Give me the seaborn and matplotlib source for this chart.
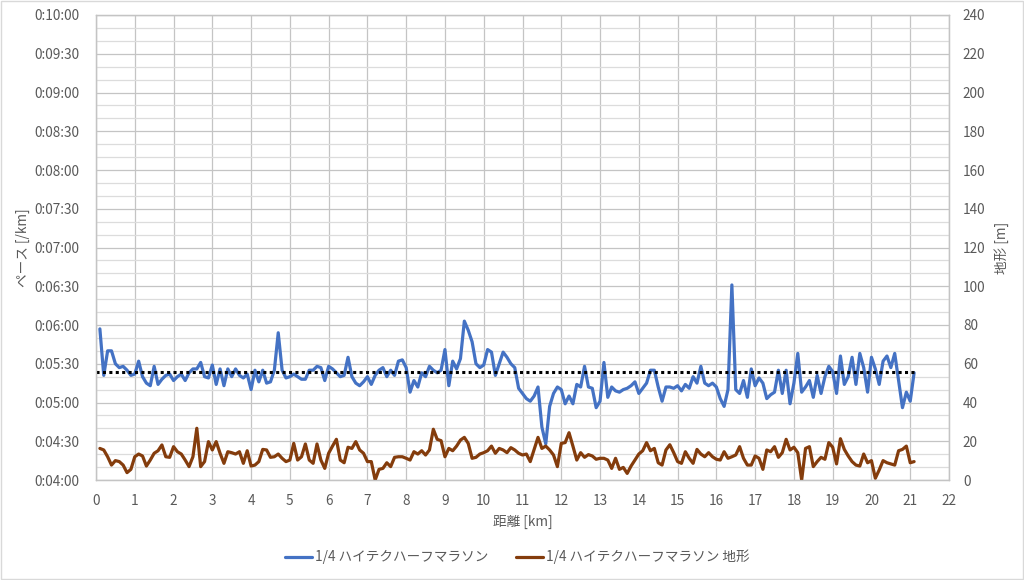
import numpy as np
import pandas as pd
import matplotlib
matplotlib.use("Agg")
import matplotlib.pyplot as plt
from matplotlib.ticker import MultipleLocator, FuncFormatter
import seaborn as sns

# 距離 [km]（0.1 km 刻み）
dist = np.round(np.arange(1, 212) * 0.1, 1)

# ペース [秒/km]
pace = [
    357, 321, 340, 340, 330, 327, 328, 325, 321, 322,
    332, 320, 315, 313, 328, 314, 318, 321, 322, 317,
    320, 322, 317, 323, 326, 326, 331, 320, 319, 329,
    314, 326, 313, 326, 320, 326, 321, 319, 322, 310,
    325, 316, 325, 315, 316, 325, 354, 325, 319, 320,
    322, 320, 318, 318, 325, 325, 328, 327, 317, 328,
    326, 323, 320, 321, 335, 320, 315, 313, 316, 320,
    314, 321, 325, 327, 320, 325, 321, 332, 333, 327,
    308, 317, 312, 323, 320, 328, 325, 323, 325, 341,
    313, 332, 326, 334, 363, 356, 347, 330, 327, 329,
    341, 339, 321, 330, 339, 335, 330, 327, 311, 307,
    303, 301, 305, 312, 281, 268, 297, 307, 312, 310,
    299, 305, 299, 314, 312, 328, 312, 311, 296, 301,
    331, 304, 312, 309, 308, 310, 311, 313, 316, 307,
    311, 315, 325, 325, 312, 301, 312, 312, 311, 313,
    309, 314, 311, 320, 315, 328, 315, 313, 315, 312,
    303, 297, 310, 391, 310, 307, 317, 304, 326, 313,
    319, 315, 303, 306, 308, 325, 307, 325, 299, 315,
    338, 308, 312, 317, 304, 321, 307, 320, 328, 324,
    307, 336, 314, 320, 335, 314, 338, 327, 308, 335,
    326, 314, 332, 336, 327, 338, 317, 296, 308, 301,
    323,
]

# 地形 [m]
elev = [
    16.3, 15.5, 12.0, 7.7, 10.0, 9.5, 7.7, 3.8, 5.5, 12.0,
    13.4, 12.4, 7.2, 10.3, 13.8, 15.1, 18.1, 12.0, 11.7, 17.2,
    14.6, 13.4, 10.3, 6.9, 12.0, 26.7, 6.9, 9.5, 19.8, 15.5,
    19.8, 13.8, 8.6, 14.6, 14.1, 13.4, 14.6, 8.6, 15.1, 7.2,
    7.7, 9.5, 15.8, 15.5, 11.7, 12.0, 13.4, 11.2, 9.5, 10.3,
    18.9, 10.3, 12.0, 18.6, 10.3, 8.6, 18.6, 10.3, 6.0, 13.8,
    17.5, 21.0, 10.3, 8.9, 16.9, 16.3, 19.8, 15.5, 13.8, 9.5,
    9.5, 0.0, 5.5, 6.0, 8.9, 6.9, 11.7, 12.0, 12.0, 11.2,
    10.3, 14.6, 13.4, 15.1, 12.9, 15.5, 26.2, 21.0, 20.3, 12.0,
    16.3, 15.1, 17.5, 20.6, 22.0, 18.9, 11.2, 11.7, 13.4, 14.1,
    15.1, 17.5, 13.8, 16.3, 15.5, 14.1, 16.7, 15.5, 13.8, 12.9,
    13.4, 9.5, 15.8, 22.0, 16.3, 17.5, 15.5, 12.9, 6.9, 18.9,
    19.3, 24.4, 17.5, 10.3, 14.1, 11.7, 13.1, 12.4, 10.7, 11.2,
    11.2, 10.3, 6.0, 11.2, 5.5, 6.5, 3.4, 7.2, 10.3, 13.4,
    15.1, 19.3, 15.1, 16.3, 8.9, 7.7, 15.5, 18.2, 14.1, 9.5,
    8.6, 14.6, 11.2, 8.6, 15.8, 13.4, 12.0, 14.1, 12.0, 10.7,
    10.3, 14.6, 11.2, 12.0, 12.9, 17.2, 11.2, 7.7, 7.7, 12.4,
    11.2, 5.5, 15.5, 14.6, 17.2, 11.7, 14.1, 21.0, 15.5, 16.9,
    14.1, 0.0, 16.3, 17.2, 6.9, 9.5, 11.7, 10.7, 19.3, 16.9,
    8.3, 21.3, 15.8, 12.4, 9.5, 7.7, 7.2, 13.4, 8.9, 10.0,
    0.9, 5.2, 10.0, 8.9, 8.3, 7.7, 15.1, 15.8, 17.5, 8.9,
    9.5,
]

avg_pace = 324  # 平均ペース（点線）

name_pace = "1/4 ハイテクハーフマラソン"
name_elev = "1/4 ハイテクハーフマラソン 地形"

df = pd.DataFrame({"dist": dist, "pace": pace, "elev": elev})

sns.set_style("white")
plt.rcParams["font.family"] = ["Noto Sans CJK JP", "DejaVu Sans"]

blue = "#4472C4"
brown = "#843C0C"
txt = "#595959"
grid_major = "#c4c4c4"
grid_minor = "#dcdcdc"

fig = plt.figure(figsize=(10.24, 5.8), dpi=100)
ax = fig.add_axes([96 / 1024, 100 / 580, 853 / 1024, 465 / 580])
ax2 = ax.twinx()

sns.lineplot(data=df, x="dist", y="pace", ax=ax, color=blue, linewidth=2.3,
             label=name_pace, legend=False)
ax.hlines(avg_pace, 0, dist[-1], colors="black", linestyles=(0, (1, 1.1)),
          linewidth=2.2, zorder=3)
sns.lineplot(data=df, x="dist", y="elev", ax=ax2, color=brown, linewidth=2.3,
             label=name_elev, legend=False)

# 軸範囲
ax.set_xlim(0, 22)
ax.set_ylim(240, 600)
ax2.set_ylim(0, 240)

def fmt_time(v, pos):
    v = int(round(v))
    return f"0:{v // 60:02d}:{v % 60:02d}"

ax.xaxis.set_major_locator(MultipleLocator(1))
ax.yaxis.set_major_locator(MultipleLocator(30))
ax.yaxis.set_minor_locator(MultipleLocator(10))
ax.yaxis.set_major_formatter(FuncFormatter(fmt_time))
ax2.yaxis.set_major_locator(MultipleLocator(20))

ax.grid(True, which="major", axis="both", color=grid_major, linewidth=0.9)
ax.grid(True, which="minor", axis="y", color=grid_minor, linewidth=0.9)
ax.set_axisbelow(True)
ax2.grid(False)

for a in (ax, ax2):
    for s in a.spines.values():
        s.set_color(grid_major)
        s.set_linewidth(0.9)
    a.tick_params(which="both", length=0, colors=txt, labelsize=9.8)
ax.tick_params(axis="x", pad=10)
ax.tick_params(axis="y", pad=12)
ax2.tick_params(axis="y", pad=10)

ax.set_xlabel("距離 [km]", color=txt, fontsize=9.8, labelpad=5)
ax.set_ylabel("ペース [/km]", color=txt, fontsize=9.8, labelpad=3)
ax2.set_ylabel("地形 [m]", color=txt, fontsize=9.8, rotation=90, labelpad=6)

h1, l1 = ax.get_legend_handles_labels()
h2, l2 = ax2.get_legend_handles_labels()
leg = fig.legend(h1 + h2, l1 + l2, loc="center", bbox_to_anchor=(0.505, 23 / 580),
                 ncol=2, frameon=False, fontsize=9.8, handlelength=2.0,
                 handletextpad=0.2, columnspacing=2.0)
for t in leg.get_texts():
    t.set_color(txt)

# 図の外枠
fig.patches.append(plt.Rectangle((0.001, 0.001), 0.998, 0.998, transform=fig.transFigure,
                                 fill=False, edgecolor="#d9d9d9", linewidth=1.0))

fig.savefig("out.png", dpi=100, facecolor="white")
